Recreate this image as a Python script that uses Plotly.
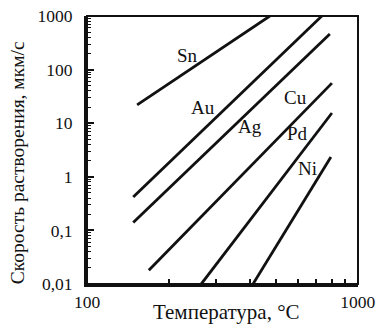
import math
import plotly.graph_objects as go

metals = ["Sn", "Au", "Ag", "Cu", "Pd", "Ni"]
temp_start = [153, 148, 148, 169, 264, 410]
temp_end = [473, 736, 788, 802, 802, 795]
rate_start = [21.9, 0.42, 0.14, 0.018, 0.01, 0.01]
rate_end = [1000, 1000, 462, 56, 15.5, 2.34]

label_t = [234, 268, 399, 590, 596, 654]
label_r = [187, 20.0, 8.5, 30.8, 6.56, 1.40]

y_tickvals = [0.01, 0.1, 1, 10, 100, 1000]
y_ticktext = ["0,01", "0,1", "1", "10", "100", "1000"]
x_tickvals = [100, 1000]
x_ticktext = ["100", "1000"]

x_title = "Температура, °C"
y_title = "Скорость растворения, мкм/с"

FONT = "Liberation Serif"
INK = "#111111"

fig = go.Figure()
for i, m in enumerate(metals):
    fig.add_trace(go.Scatter(
        x=[temp_start[i], temp_end[i]],
        y=[rate_start[i], rate_end[i]],
        mode="lines",
        line=dict(color=INK, width=2.8),
        showlegend=False,
    ))
    fig.add_annotation(x=math.log10(label_t[i]), y=math.log10(label_r[i]),
                       xref="x", yref="y", text=m, showarrow=False,
                       font=dict(family=FONT, size=19, color=INK))

fig.add_annotation(x=0.513, y=-0.1045, xref="paper", yref="paper", text=x_title,
                   showarrow=False, xanchor="center", yanchor="middle",
                   font=dict(family=FONT, size=21, color=INK))
fig.add_annotation(x=-0.258, y=0.451, xref="paper", yref="paper", text=y_title,
                   showarrow=False, xanchor="center", yanchor="middle", textangle=-90,
                   font=dict(family=FONT, size=19.5, color=INK))

y_minor = []
for d in [0.01, 0.1, 1, 10, 100]:
    for k in range(2, 10):
        y_minor.append(d * k)
x_minor = [k * 100 for k in range(2, 10)]

fig.update_layout(
    width=380, height=324,
    margin=dict(l=87, r=22, t=16, b=40),
    paper_bgcolor="white", plot_bgcolor="white",
    font=dict(family=FONT, size=17.5, color=INK),
    xaxis=dict(type="log", range=[1.9995, 3.0005], tickvals=x_tickvals, ticktext=x_ticktext,
               ticks="", showgrid=False, zeroline=False, automargin=False,
               ticklabeloverflow="allow",
               showline=True, linecolor=INK, linewidth=3,
               tickfont=dict(size=17.5),
               minor=dict(tickvals=x_minor, ticks="inside", ticklen=5,
                          tickcolor=INK, tickwidth=1.5, showgrid=False)),
    yaxis=dict(type="log", range=[-2.0005, 3.0005], tickvals=y_tickvals, ticktext=y_ticktext,
               ticks="inside", ticklen=7, tickwidth=1.5, tickcolor=INK,
               showgrid=False, zeroline=False, automargin=False,
               ticklabeloverflow="allow",
               showline=True, linecolor=INK, linewidth=3,
               ticklabelstandoff=8,
               tickfont=dict(size=17.5),
               minor=dict(tickvals=y_minor, ticks="inside", ticklen=4,
                          tickcolor=INK, tickwidth=1.2, showgrid=False)),
    shapes=[dict(type="rect", xref="paper", yref="paper", x0=0, y0=0, x1=1, y1=1,
                 line=dict(color=INK, width=2))],
)

fig.write_html(
    "out.html",
    config={"displayModeBar": False},
    post_script="document.body.style.margin='0';document.body.style.overflow='hidden';",
)
